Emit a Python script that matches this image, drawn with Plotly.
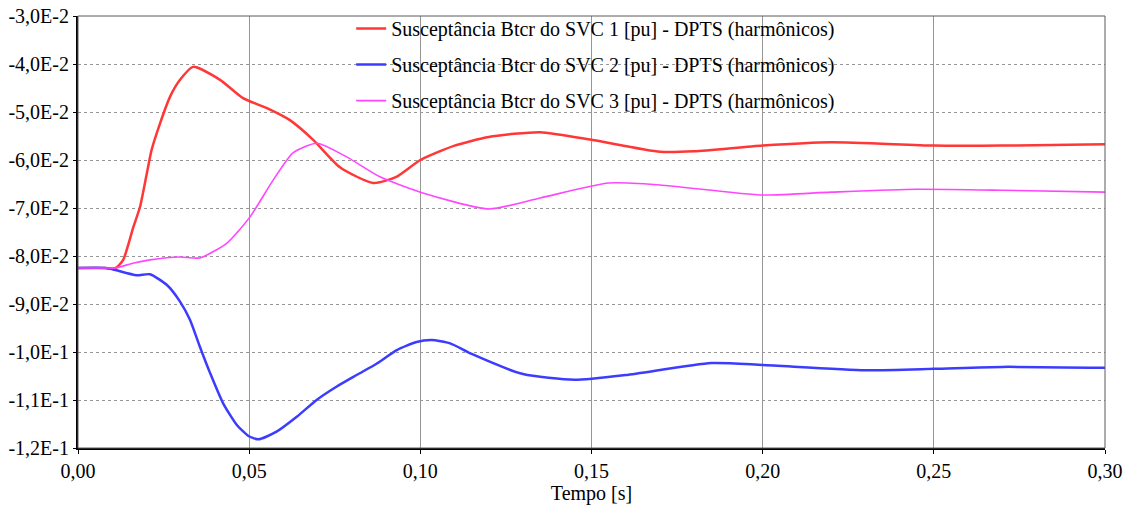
import plotly.graph_objects as go

# Data
t_svc1 = [0.0, 0.008, 0.011, 0.0132, 0.0162, 0.0181, 0.0201, 0.0215, 0.024, 0.0269, 0.0298, 0.0336, 0.0415,
          0.0482, 0.0552, 0.0619, 0.0687, 0.0765, 0.0862, 0.093, 0.10, 0.11, 0.12, 0.135, 0.15, 0.17, 0.18,
          0.20, 0.22, 0.25, 0.27, 0.30]
b_svc1 = [-0.0825, -0.0825, -0.0825, -0.0808, -0.0739, -0.0698, -0.0628, -0.0579, -0.0523, -0.0468, -0.0433,
          -0.0406, -0.0433, -0.0471, -0.0492, -0.0517, -0.0558, -0.0615, -0.0648, -0.0635, -0.0600, -0.0570,
          -0.0552, -0.0542, -0.0558, -0.0583, -0.0582, -0.0570, -0.0563, -0.0570, -0.0570, -0.0567]

t_svc2 = [0.0, 0.008, 0.0103, 0.0171, 0.021, 0.0259, 0.0298, 0.0327, 0.0356, 0.0386, 0.0424, 0.0464, 0.0498,
          0.0527, 0.058, 0.0639, 0.0697, 0.0756, 0.0814, 0.0873, 0.0931, 0.0989, 0.1033, 0.1087, 0.115, 0.13,
          0.145, 0.16, 0.185, 0.20, 0.23, 0.25, 0.27, 0.30]
b_svc2 = [-0.0825, -0.0825, -0.0828, -0.0840, -0.0838, -0.0860, -0.0895, -0.0933, -0.0989, -0.1044, -0.1107,
          -0.1152, -0.1175, -0.1182, -0.1166, -0.1135, -0.1100, -0.1072, -0.1048, -0.1024, -0.0996, -0.0979,
          -0.0975, -0.0982, -0.1004, -0.1046, -0.1058, -0.1048, -0.1023, -0.1027, -0.1038, -0.1035, -0.1031,
          -0.1033]

t_svc3 = [0.0, 0.008, 0.011, 0.016, 0.021, 0.0298, 0.0356, 0.0435, 0.0502, 0.057, 0.0628, 0.0698, 0.0786,
          0.0882, 0.10, 0.12, 0.135, 0.155, 0.17, 0.20, 0.22, 0.245, 0.27, 0.30]
b_svc3 = [-0.0825, -0.0825, -0.0825, -0.0815, -0.0808, -0.0802, -0.0804, -0.0773, -0.0719, -0.0642, -0.0585,
          -0.0565, -0.0594, -0.0635, -0.0667, -0.0702, -0.0679, -0.0648, -0.0652, -0.0673, -0.0667, -0.0661,
          -0.0663, -0.0667]

names = ["Susceptância Btcr do SVC 1 [pu] - DPTS (harmônicos)",
         "Susceptância Btcr do SVC 2 [pu] - DPTS (harmônicos)",
         "Susceptância Btcr do SVC 3 [pu] - DPTS (harmônicos)"]

y_tick_vals = [-0.03, -0.04, -0.05, -0.06, -0.07, -0.08, -0.09, -0.10, -0.11, -0.12]
y_tick_text = ["-3,0E-2", "-4,0E-2", "-5,0E-2", "-6,0E-2", "-7,0E-2", "-8,0E-2", "-9,0E-2",
               "-1,0E-1", "-1,1E-1", "-1,2E-1"]
x_tick_vals = [0.0, 0.05, 0.10, 0.15, 0.20, 0.25, 0.30]
x_tick_text = ["0,00", "0,05", "0,10", "0,15", "0,20", "0,25", "0,30"]

font_family = "Times New Roman"
fs = 20

fig = go.Figure()
fig.add_trace(go.Scatter(x=t_svc1, y=b_svc1, mode="lines", name=names[0], legendgroup="a",
                         line=dict(color="rgb(255,55,55)", width=2.5, shape="spline", smoothing=0.6)))
fig.add_trace(go.Scatter(x=t_svc2, y=b_svc2, mode="lines", name=names[1], legendgroup="b",
                         line=dict(color="rgb(60,60,255)", width=2.5, shape="spline", smoothing=0.6)))
fig.add_trace(go.Scatter(x=t_svc3, y=b_svc3, mode="lines", name=names[2], legendgroup="c",
                         line=dict(color="rgb(255,70,255)", width=1.6, shape="spline", smoothing=0.6)))

fig.update_layout(
    width=1128, height=508,
    margin=dict(l=78, r=23, t=16, b=60, autoexpand=False),
    plot_bgcolor="white", paper_bgcolor="white",
    font=dict(family=font_family, size=fs, color="black"),
    showlegend=True,
    legend=dict(x=0.266, y=1.016, xanchor="left", yanchor="top", bgcolor="rgba(0,0,0,0)",
                font=dict(family=font_family, size=fs, color="black"),
                tracegroupgap=7, itemwidth=30),
    shapes=[dict(type="rect", xref="paper", yref="paper", x0=0, y0=0, x1=1, y1=1,
                 line=dict(color="rgb(90,90,90)", width=1), layer="above")],
)
fig.update_xaxes(range=[0, 0.30], tickvals=x_tick_vals, ticktext=x_tick_text, automargin=False,
                 showgrid=True, gridcolor="rgb(150,150,150)", gridwidth=1,
                 showline=True, linecolor="black", linewidth=2,
                 ticks="outside", ticklen=4, tickcolor="black", ticklabeloverflow="allow",
                 tickfont=dict(family=font_family, size=fs),
                 title=dict(text="Tempo [s]", font=dict(family=font_family, size=fs), standoff=2),
                 zeroline=False)
fig.update_yaxes(range=[-0.12, -0.03], tickvals=y_tick_vals, ticktext=y_tick_text, automargin=False,
                 showgrid=True, gridcolor="rgb(150,150,150)", gridwidth=1, griddash="dot",
                 showline=True, linecolor="black", linewidth=2,
                 ticks="outside", ticklen=3, tickcolor="black", ticklabeloverflow="allow",
                 tickfont=dict(family=font_family, size=fs),
                 zeroline=False)

fig.write_html("out.html", config={"displayModeBar": False},
               post_script="document.body.style.margin='0';")
